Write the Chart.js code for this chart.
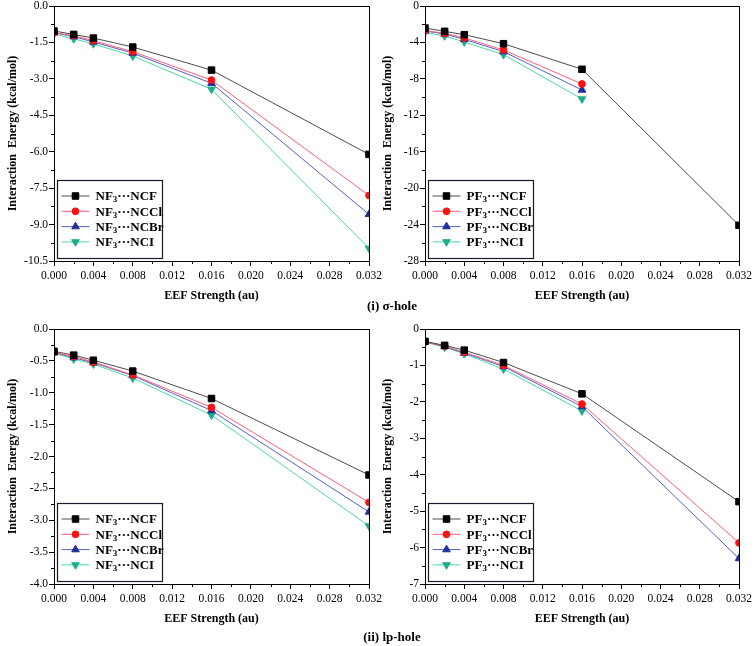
<!DOCTYPE html>
<html><head><meta charset="utf-8">
<script src="https://cdn.jsdelivr.net/npm/chart.js@4/dist/chart.umd.min.js"></script>
<style>
html,body{margin:0;padding:0;background:#fff;}
#wrap{position:relative;width:756px;height:646px;overflow:hidden;background:#fff;}
.pane{position:absolute;}
.cap{position:absolute;width:120px;text-align:center;font:bold 13px "Liberation Serif",serif;line-height:15px;color:#000;z-index:5;}
</style>
</head><body>
<div id="wrap">
<div class="pane" style="left:0;top:0;width:392px;height:310px;"><canvas id="c1"></canvas></div>
<div class="pane" style="left:378px;top:0;width:378px;height:310px;"><canvas id="c2"></canvas></div>
<div class="pane" style="left:0;top:310px;width:392px;height:336px;"><canvas id="c3"></canvas></div>
<div class="pane" style="left:378px;top:310px;width:378px;height:336px;"><canvas id="c4"></canvas></div>
<div class="cap" id="cap1" style="left:332px;top:298px;"></div>
<div class="cap" id="cap2" style="left:332px;top:629px;"></div>
</div>
<script>
// ---- data ----
const xValues = [0, 0.002, 0.004, 0.008, 0.016, 0.032];
const xTicks = [0, 0.004, 0.008, 0.012, 0.016, 0.020, 0.024, 0.028, 0.032];

const nf3Labels = ["NF₃···NCF", "NF₃···NCCl", "NF₃···NCBr", "NF₃···NCI"];
const pf3Labels = ["PF₃···NCF", "PF₃···NCCl", "PF₃···NCBr", "PF₃···NCI"];

const nf3SigmaNCF  = [-1.03, -1.17, -1.32, -1.69, -2.64, -6.11];
const nf3SigmaNCCl = [-1.10, -1.22, -1.43, -1.88, -3.05, -7.80];
const nf3SigmaNCBr = [-1.10, -1.26, -1.48, -1.94, -3.18, -8.58];
const nf3SigmaNCI  = [-1.15, -1.35, -1.56, -2.06, -3.43, -9.98];

const pf3SigmaNCF  = [-2.42, -2.78, -3.15, -4.14, -6.95, -24.08];
const pf3SigmaNCCl = [-2.70, -3.00, -3.51, -4.83, -8.56, null];
const pf3SigmaNCBr = [-2.75, -3.07, -3.66, -5.01, -9.22, null];
const pf3SigmaNCI  = [-2.89, -3.29, -3.95, -5.34, -10.21, null];

const nf3LpNCF  = [-0.35, -0.41, -0.49, -0.66, -1.09, -2.29];
const nf3LpNCCl = [-0.37, -0.43, -0.52, -0.72, -1.23, -2.72];
const nf3LpNCBr = [-0.37, -0.45, -0.53, -0.73, -1.28, -2.87];
const nf3LpNCI  = [-0.38, -0.47, -0.55, -0.77, -1.35, -3.09];

const pf3LpNCF  = [-0.34, -0.45, -0.58, -0.92, -1.78, -4.74];
const pf3LpNCCl = [-0.35, -0.47, -0.64, -1.00, -2.06, -5.87];
const pf3LpNCBr = [-0.35, -0.48, -0.66, -1.03, -2.13, -6.30];
const pf3LpNCI  = [-0.36, -0.50, -0.68, -1.10, -2.25, null];

const captions = ["(i) σ-hole", "(ii) lp-hole"];
const xTitle = "EEF Strength (au)";
const yTitle = "Interaction  Energy (kcal/mol)";

// ---- styles ----
const SERIF = '"Liberation Serif", "Times New Roman", serif';
const seriesStyles = [
  {line:'#4d4d4d', point:'#000000', style:'rect', radius:4.6, rotation:0},
  {line:'#ff5c7a', point:'#ff1010', style:'circle', radius:3.4, rotation:0},
  {line:'#5561c6', point:'#1f2f9e', style:'triangle', radius:4.4, rotation:0},
  {line:'#4ad8a8', point:'#1fae8c', style:'triangle', radius:4.4, rotation:180}
];

function makeDatasets(labels, arrays){
  return arrays.map((arr, i) => {
    const s = seriesStyles[i];
    return {
      label: labels[i],
      data: xValues.map((x, j) => ({x: x, y: arr[j]})).filter(p => p.y !== null),
      borderColor: s.line,
      backgroundColor: s.point,
      pointBackgroundColor: s.point,
      pointBorderColor: s.point,
      pointStyle: s.style,
      pointRadius: s.radius,
      pointRotation: s.rotation,
      pointBorderWidth: 1,
      borderWidth: 1,
      tension: 0
    };
  });
}

const framePlugin = {
  id: 'frame',
  afterDatasetsDraw(chart){
    const {ctx, chartArea: a} = chart;
    ctx.save();
    ctx.strokeStyle = '#000';
    ctx.lineWidth = 1;
    ctx.strokeRect(Math.round(a.left)+0.5, Math.round(a.top)+0.5, Math.round(a.right-a.left), Math.round(a.bottom-a.top));
    const xs = chart.scales.x, ys = chart.scales.y;
    ctx.beginPath();
    for (let i = 0; i < xs.ticks.length - 1; i++){
      const v = (xs.ticks[i].value + xs.ticks[i+1].value)/2;
      const px = Math.round(xs.getPixelForValue(v)) + 0.5;
      ctx.moveTo(px, a.bottom); ctx.lineTo(px, a.bottom + 3);
    }
    for (let i = 0; i < ys.ticks.length - 1; i++){
      const v = (ys.ticks[i].value + ys.ticks[i+1].value)/2;
      const py = Math.round(ys.getPixelForValue(v)) + 0.5;
      ctx.moveTo(a.left, py); ctx.lineTo(a.left - 3, py);
    }
    ctx.stroke();
    ctx.restore();
  }
};

function drawMarker(ctx, s, x, y){
  ctx.fillStyle = s.point; ctx.strokeStyle = s.point; ctx.lineWidth = 1;
  ctx.beginPath();
  if (s.style === 'rect'){
    const h = s.radius * Math.SQRT1_2;
    ctx.rect(x - h, y - h, 2*h, 2*h);
  } else if (s.style === 'circle'){
    ctx.arc(x, y, s.radius, 0, Math.PI*2);
  } else {
    let rad = s.rotation * Math.PI / 180;
    const r = s.radius;
    ctx.moveTo(x + Math.sin(rad)*r, y - Math.cos(rad)*r);
    rad += 2*Math.PI/3;
    ctx.lineTo(x + Math.sin(rad)*r, y - Math.cos(rad)*r);
    rad += 2*Math.PI/3;
    ctx.lineTo(x + Math.sin(rad)*r, y - Math.cos(rad)*r);
    ctx.closePath();
  }
  ctx.fill(); ctx.stroke();
}

const legendPlugin = {
  id: 'boxLegend',
  afterDraw(chart){
    const {ctx, chartArea: a} = chart;
    const w = 105, h = 78;
    const bx = Math.round(a.left) + 3.5, by = Math.round(a.bottom) - 3 - h + 0.5;
    ctx.save();
    ctx.fillStyle = '#fff';
    ctx.fillRect(bx, by, w, h);
    ctx.strokeStyle = '#1a1a2a';
    ctx.lineWidth = 1.2;
    ctx.strokeRect(bx, by, w, h);
    chart.data.datasets.forEach((ds, i) => {
      const s = seriesStyles[i];
      const y = by + 15.5 + i * 15.3;
      ctx.strokeStyle = s.line; ctx.lineWidth = 1;
      ctx.beginPath(); ctx.moveTo(bx + 4, y); ctx.lineTo(bx + 32, y); ctx.stroke();
      drawMarker(ctx, s, bx + 18, y);
      const parts = ds.label.split('₃');
      ctx.fillStyle = '#000';
      ctx.textBaseline = 'middle';
      ctx.textAlign = 'left';
      let tx = bx + 38;
      ctx.font = 'bold 13px ' + SERIF;
      ctx.fillText(parts[0], tx, y + 1);
      tx += ctx.measureText(parts[0]).width;
      ctx.font = 'bold 9px ' + SERIF;
      ctx.fillText('3', tx, y + 4);
      tx += ctx.measureText('3').width;
      ctx.font = 'bold 13px ' + SERIF;
      ctx.fillText(parts[1], tx, y + 1);
    });
    ctx.restore();
  }
};

function makeChart(id, cfg){
  const datasets = makeDatasets(cfg.labels, cfg.arrays);
  return new Chart(document.getElementById(id), {
    type: 'line',
    data: { datasets },
    plugins: [framePlugin, legendPlugin],
    options: {
      responsive: true,
      maintainAspectRatio: false,
      animation: false,
      devicePixelRatio: 1,
      layout: { padding: { left: 0, right: cfg.padRight, top: cfg.padTop, bottom: 0 } },
      plugins: { legend: { display: false }, tooltip: { enabled: false } },
      scales: {
        x: {
          type: 'linear', min: 0, max: 0.032,
          afterBuildTicks: (s) => { s.ticks = xTicks.map(v => ({value: v})); },
          afterFit: (s) => { s.height = cfg.xHeight; s.paddingLeft = 0; s.paddingRight = 0; },
          grid: { display: true, drawOnChartArea: false, drawTicks: true, tickLength: 5, color: '#000', lineWidth: 1 },
          border: { display: true, color: '#000', width: 1 },
          ticks: { autoSkip: false, maxRotation: 0, padding: 3, color: '#000',
                   font: { family: SERIF, size: 11.5 },
                   callback: (v) => Number(v).toFixed(3) },
          title: { display: true, text: xTitle, color: '#000',
                   font: { family: SERIF, size: 12, weight: 'bold' },
                   padding: { top: 0, bottom: cfg.xTitlePad } }
        },
        y: {
          type: 'linear', min: cfg.yMin, max: 0,
          afterBuildTicks: (s) => { s.ticks = cfg.yTicks.map(v => ({value: v})); },
          afterFit: (s) => { s.width = cfg.yWidth; s.paddingTop = 0; s.paddingBottom = 0; },
          grid: { display: true, drawOnChartArea: false, drawTicks: true, tickLength: 5, color: '#000', lineWidth: 1 },
          border: { display: true, color: '#000', width: 1 },
          ticks: { padding: 1, color: '#000', font: { family: SERIF, size: 11.5 },
                   callback: (v) => Number(v).toFixed(cfg.dec) },
          title: { display: true, text: yTitle, color: '#000',
                   font: { family: SERIF, size: 12, weight: 'bold' },
                   padding: { top: cfg.yTitlePad, bottom: 0 } }
        }
      }
    }
  });
}

const yTicks1 = [0, -1.5, -3.0, -4.5, -6.0, -7.5, -9.0, -10.5];
const yTicks2 = [0, -4, -8, -12, -16, -20, -24, -28];
const yTicks3 = [0, -0.5, -1.0, -1.5, -2.0, -2.5, -3.0, -3.5, -4.0];
const yTicks4 = [0, -1, -2, -3, -4, -5, -6, -7];

makeChart('c1', { labels: nf3Labels, arrays: [nf3SigmaNCF, nf3SigmaNCCl, nf3SigmaNCBr, nf3SigmaNCI],
  yMin: -10.5, yTicks: yTicks1, dec: 1, padRight: 23, padTop: 6, xHeight: 49, yWidth: 54, xTitlePad: 7, yTitlePad: 5.5 });
makeChart('c2', { labels: pf3Labels, arrays: [pf3SigmaNCF, pf3SigmaNCCl, pf3SigmaNCBr, pf3SigmaNCI],
  yMin: -28, yTicks: yTicks2, dec: 0, padRight: 17, padTop: 6, xHeight: 49, yWidth: 47, xTitlePad: 7, yTitlePad: 3 });
makeChart('c3', { labels: nf3Labels, arrays: [nf3LpNCF, nf3LpNCCl, nf3LpNCBr, nf3LpNCI],
  yMin: -4, yTicks: yTicks3, dec: 1, padRight: 23, padTop: 19, xHeight: 62, yWidth: 54, xTitlePad: 20, yTitlePad: 5.5 });
makeChart('c4', { labels: pf3Labels, arrays: [pf3LpNCF, pf3LpNCCl, pf3LpNCBr, pf3LpNCI],
  yMin: -7, yTicks: yTicks4, dec: 0, padRight: 17, padTop: 19, xHeight: 62, yWidth: 47, xTitlePad: 20, yTitlePad: 3 });

document.getElementById('cap1').textContent = captions[0];
document.getElementById('cap2').textContent = captions[1];
</script>
</body></html>
